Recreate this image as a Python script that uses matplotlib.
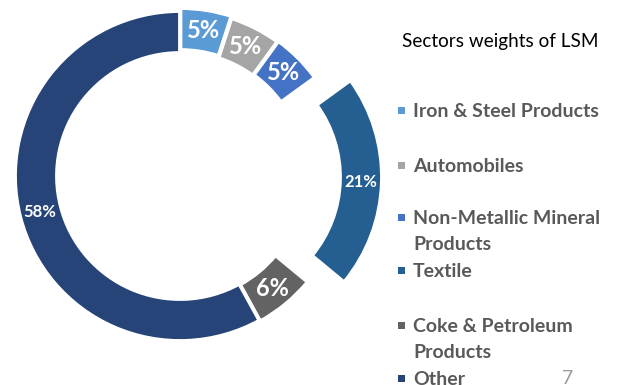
import matplotlib
matplotlib.use("Agg")
import matplotlib.pyplot as plt
from matplotlib.patches import Rectangle

# sector shares of large scale manufacturing (percent)
sectors = ["Iron & Steel Products", "Automobiles",
           "Non-Metallic Mineral\nProducts", "Textile",
           "Coke & Petroleum\nProducts", "Other"]
weights = [5, 5, 5, 21, 6, 58]
colors = ["#5B9BD5", "#A5A5A5", "#4472C4", "#255E91", "#636363", "#264478"]

W, H = 618, 385

def fy(y):
    # work in pixel rows counted from the top
    return H - y

plt.rcParams["font.family"] = ["Lato", "DejaVu Sans"]

fig = plt.figure(figsize=(W / 100, H / 100), dpi=100)
ax = fig.add_axes([0, 0, 1, 1])

wedges, texts, autotexts = ax.pie(
        weights, colors=colors, radius=165, center=(180, fy(176)),
        startangle=90, counterclock=False,
        explode=[3, 1, 2, 37, 1, 0],
        autopct=lambda p: "%.0f%%" % p, pctdistance=0.875,
        wedgeprops=dict(width=42, edgecolor="white", linewidth=2.75),
        textprops=dict(color="white", fontweight="bold"))

for w, t in zip(weights, autotexts):
    t.set_fontsize(17 if w < 10 else 12)

ax.set_xlim(0, W)
ax.set_ylim(0, H)
ax.set_aspect("equal")
ax.axis("off")

ax.text(500, fy(42), "Sectors weights of LSM", ha="center", va="center",
        fontsize=13.6, color="black")

# legend rows (first-line centres, pixels from top)
legend_y = [110, 165, 217, 270, 325, 378]
line_step = 26
for name, c, y in zip(sectors, colors, legend_y):
    ax.add_patch(Rectangle((398, fy(y) - 3.5), 7, 7, color=c, lw=0))
    for k, line in enumerate(name.split("\n")):
        ax.text(413, fy(y + 7 + k * line_step), line, ha="left",
                va="baseline", fontsize=14, fontweight="bold",
                color="#595959")

ax.text(568, fy(370), "7", ha="center", va="top", fontsize=14,
        color="#9B9B9B")

fig.savefig("out.png", dpi=100)
